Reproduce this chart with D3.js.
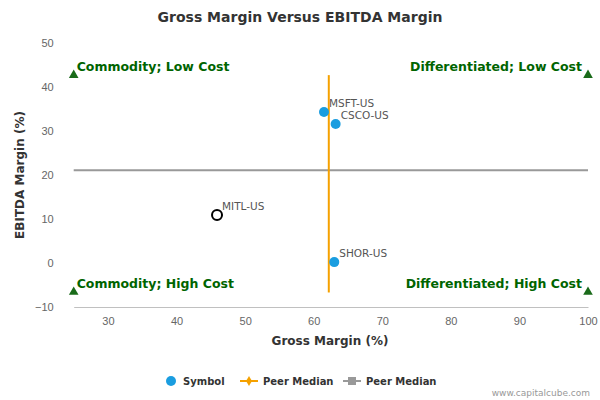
<!DOCTYPE html>
<html><head><meta charset="utf-8">
<script src="https://cdnjs.cloudflare.com/ajax/libs/d3/7.8.5/d3.min.js"></script>
<style>body{margin:0;background:#fff}svg{font-family:"DejaVu Sans",sans-serif}</style>
</head><body><svg id="c" width="600" height="400"></svg>
<script>
const symbols = ["MSFT-US", "CSCO-US", "SHOR-US", "MITL-US"];
const grossMargin = [61.5, 63.2, 63.0, 45.9];
const ebitdaMargin = [34.3, 31.6, 0.2, 10.9];
const peerMedianX = 62.2, peerMedianY = 21.1;
const quadrants = [
  {t: "Commodity; Low Cost", x: 25, y: 42.7, a: "start"},
  {t: "Differentiated; Low Cost", x: 100, y: 42.7, a: "end"},
  {t: "Commodity; High Cost", x: 25, y: -6.6, a: "start"},
  {t: "Differentiated; High Cost", x: 100, y: -6.6, a: "end"}
];
const xTicks = [30, 40, 50, 60, 70, 80, 90, 100];
const yTicks = [-10, 0, 10, 20, 30, 40, 50];

const svg = d3.select("#c");
const x = d3.scaleLinear().domain([25, 100]).range([73.7, 588]);
const y = d3.scaleLinear().domain([-10, 50]).range([307, 43]);

svg.append("text").attr("x", 300).attr("y", 22).attr("text-anchor", "middle")
  .attr("font-size", 14).attr("font-weight", "bold").attr("fill", "#333").text("Gross Margin Versus EBITDA Margin");

const xa = svg.append("g").attr("transform", "translate(0,307)")
  .call(d3.axisBottom(x).tickValues(xTicks).tickSize(0).tickPadding(10));
xa.select(".domain").attr("stroke", "#c0c0c0");
const ya = svg.append("g").attr("transform", "translate(73.7,0)")
  .call(d3.axisLeft(y).tickValues(yTicks).tickSize(0).tickPadding(20));
ya.select(".domain").remove();
svg.selectAll(".tick text").attr("fill", "#666").attr("font-size", 11);

svg.append("text").attr("x", 330).attr("y", 345).attr("text-anchor", "middle")
  .attr("font-size", 12).attr("font-weight", "bold").attr("fill", "#333").text("Gross Margin (%)");
svg.append("text").attr("transform", "translate(24,175) rotate(-90)").attr("text-anchor", "middle")
  .attr("font-size", 12).attr("font-weight", "bold").attr("fill", "#333").text("EBITDA Margin (%)");

// peer medians
svg.append("line").attr("x1", x(25)).attr("x2", x(100)).attr("y1", y(peerMedianY)).attr("y2", y(peerMedianY))
  .attr("stroke", "#999").attr("stroke-width", 2);
svg.append("line").attr("x1", x(peerMedianX)).attr("x2", x(peerMedianX)).attr("y1", y(42.7)).attr("y2", y(-6.7))
  .attr("stroke", "#f5a100").attr("stroke-width", 2);

// quadrant markers
const tri = d3.symbol().type(d3.symbolTriangle).size(40);
quadrants.forEach(q => {
  svg.append("path").attr("d", tri).attr("transform", `translate(${x(q.x)},${y(q.y)})`).attr("fill", "#1a6b1a");
  svg.append("text").attr("x", x(q.x) + (q.a === "start" ? 3 : -6)).attr("y", y(q.y) - 4)
    .attr("text-anchor", q.a).attr("font-size", 12.5).attr("font-weight", "bold").attr("fill", "#006400").text(q.t);
});

symbols.forEach((s, i) => {
  const hollow = s === "MITL-US";
  svg.append("circle").attr("cx", x(grossMargin[i])).attr("cy", y(ebitdaMargin[i])).attr("r", 5)
    .attr("fill", hollow ? "#fff" : "#1a9de0").attr("stroke", hollow ? "#000" : "none").attr("stroke-width", 2);
  svg.append("text").attr("x", x(grossMargin[i]) + 5).attr("y", y(ebitdaMargin[i]) - 5)
    .attr("font-size", 10.5).attr("fill", "#555").text(s);
});

// legend
const lg = svg.append("g").attr("font-size", 10).attr("font-weight", "bold").attr("fill", "#333");
lg.append("circle").attr("cx", 171).attr("cy", 381).attr("r", 5).attr("fill", "#1a9de0");
lg.append("text").attr("x", 183).attr("y", 385).text("Symbol");
lg.append("line").attr("x1", 240).attr("x2", 258).attr("y1", 381).attr("y2", 381).attr("stroke", "#f5a100").attr("stroke-width", 2);
lg.append("path").attr("d", d3.symbol().type(d3.symbolDiamond).size(30)).attr("transform", "translate(249,381)").attr("fill", "#f5a100");
lg.append("text").attr("x", 263).attr("y", 385).text("Peer Median");
lg.append("line").attr("x1", 343).attr("x2", 361).attr("y1", 381).attr("y2", 381).attr("stroke", "#999").attr("stroke-width", 2);
lg.append("rect").attr("x", 348).attr("y", 377).attr("width", 8).attr("height", 8).attr("fill", "#999");
lg.append("text").attr("x", 366).attr("y", 385).text("Peer Median");

svg.append("text").attr("x", 590).attr("y", 396).attr("text-anchor", "end").attr("font-size", 9)
  .attr("fill", "#999").text("www.capitalcube.com");
</script></body></html>
